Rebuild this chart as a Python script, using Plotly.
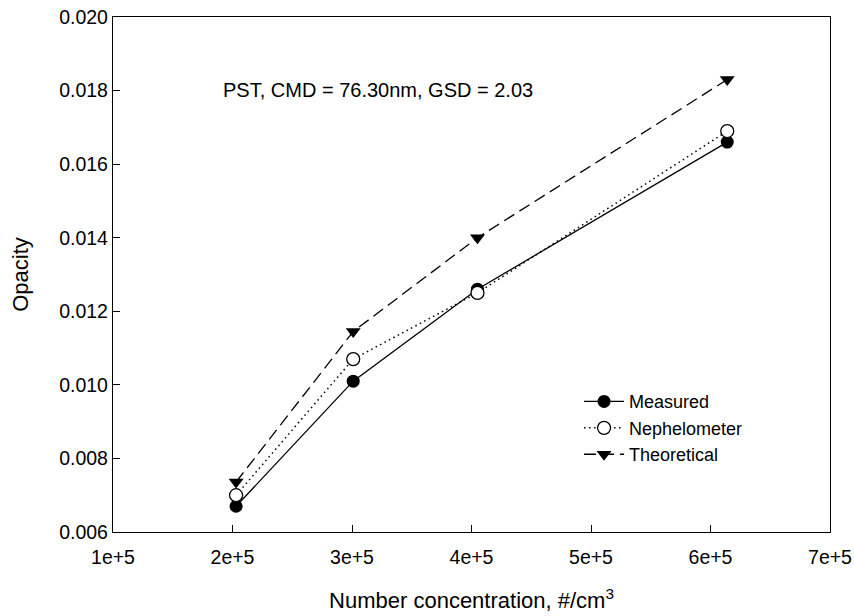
import plotly.graph_objects as go

conc = [203000, 301000, 405000, 614000]
measured = [0.0067, 0.0101, 0.0126, 0.0166]
nephelometer = [0.0070, 0.0107, 0.0125, 0.0169]
theoretical = [0.00736, 0.01145, 0.0140, 0.0183]

x_tick_vals = [100000, 200000, 300000, 400000, 500000, 600000, 700000]
x_tick_text = ["1e+5", "2e+5", "3e+5", "4e+5", "5e+5", "6e+5", "7e+5"]
y_tick_vals = [0.006, 0.008, 0.010, 0.012, 0.014, 0.016, 0.018, 0.020]
y_tick_text = ["0.006", "0.008", "0.010", "0.012", "0.014", "0.016", "0.018", "0.020"]

FONT = "Liberation Sans, Arial, sans-serif"

fig = go.Figure()
fig.add_trace(go.Scatter(
    x=conc, y=theoretical, name="Theoretical", mode="lines+markers",
    line=dict(color="black", width=1.3, dash="12px,6px"),
    marker=dict(symbol="triangle-down", size=13, color="black"),
    legendrank=3,
))
fig.add_trace(go.Scatter(
    x=conc, y=measured, name="Measured", mode="lines+markers",
    line=dict(color="black", width=1.3),
    marker=dict(symbol="circle", size=13, color="black"),
    legendrank=1,
))
fig.add_trace(go.Scatter(
    x=conc, y=nephelometer, name="Nephelometer", mode="lines+markers",
    line=dict(color="black", width=1.5, dash="1.5px,3.5px"),
    marker=dict(symbol="circle", size=13, color="white",
                line=dict(color="black", width=1.3)),
    legendrank=2,
))

fig.add_annotation(
    x=0.15, y=0.858, xref="paper", yref="paper", xanchor="left", yanchor="middle",
    text="PST, CMD = 76.30nm, GSD = 2.03", showarrow=False,
    font=dict(size=20, color="black", family=FONT),
)

axis_common = dict(
    showline=True, linecolor="black", linewidth=1.3, mirror=True,
    ticks="inside", ticklen=7, tickwidth=1.3, tickcolor="black",
    showgrid=False, zeroline=False, automargin=False,
    tickfont=dict(size=19.5, color="black", family=FONT),
)

fig.update_xaxes(
    range=[100000, 700000], tickmode="array",
    tickvals=x_tick_vals, ticktext=x_tick_text,
    ticklabelstandoff=7,
    title=dict(text="Number concentration, #/cm<sup>3</sup>",
               font=dict(size=22, color="black", family=FONT), standoff=26),
    **axis_common,
)
fig.update_yaxes(
    range=[0.006, 0.020], tickmode="array",
    tickvals=y_tick_vals, ticktext=y_tick_text,
    title=dict(text="Opacity", font=dict(size=22, color="black", family=FONT),
               standoff=24),
    **axis_common,
)

fig.update_layout(
    width=854, height=616,
    margin=dict(l=113, r=24, t=17, b=84, autoexpand=False),
    plot_bgcolor="white", paper_bgcolor="white",
    font=dict(family=FONT, color="black"),
    legend=dict(
        x=0.65, y=0.2015, xanchor="left", yanchor="middle",
        traceorder="normal",
        font=dict(size=18, color="black", family=FONT),
        bgcolor="rgba(0,0,0,0)",
        itemwidth=40,
    ),
    showlegend=True,
)

fig.write_html("out.html")
